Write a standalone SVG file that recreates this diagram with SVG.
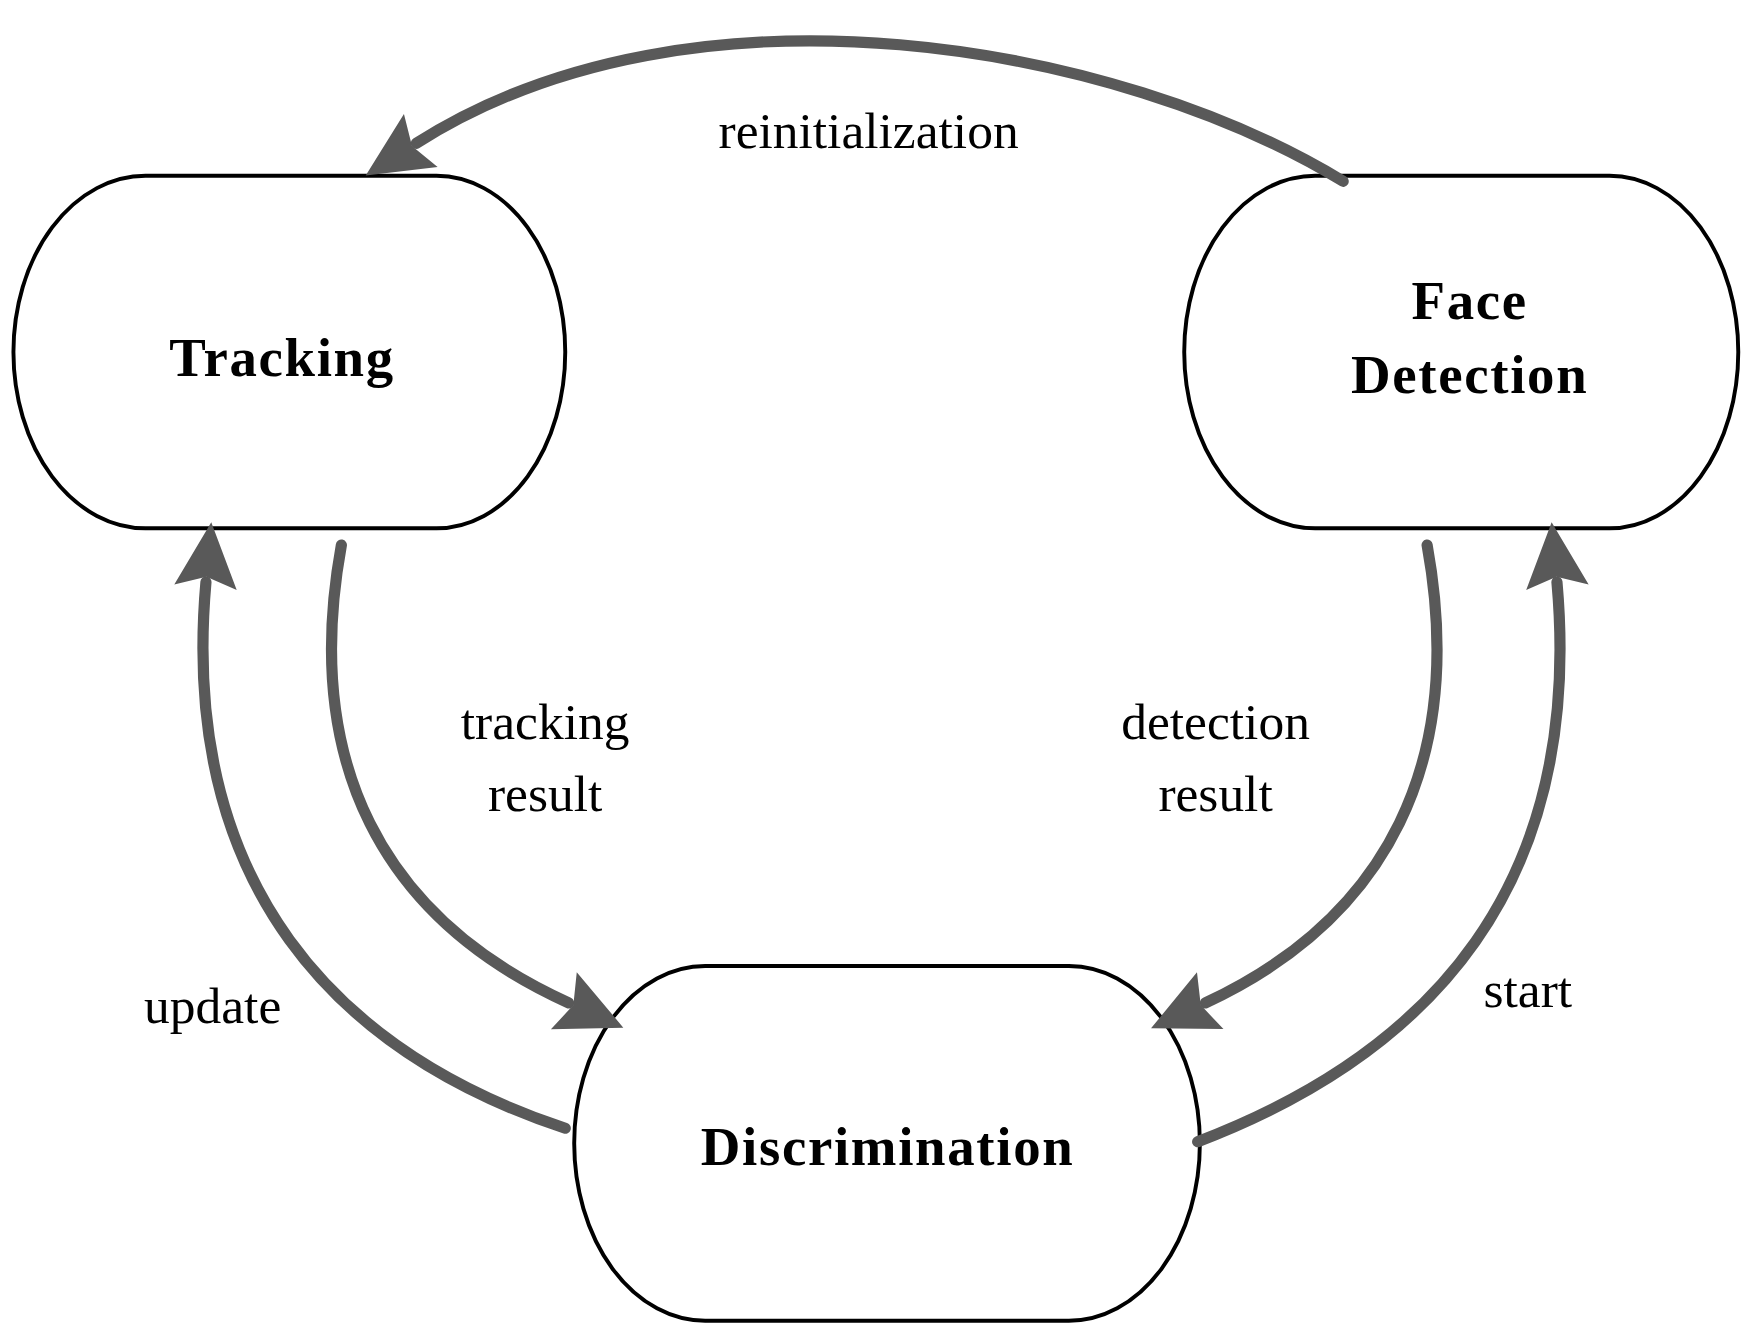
<svg xmlns="http://www.w3.org/2000/svg" width="1755" height="1341" viewBox="0 0 1755 1341">
<style>
.node{fill:#fff;stroke:#000;stroke-width:3.5}
.lbl{font-family:"Liberation Serif",serif;font-weight:bold;font-size:49px;text-anchor:middle;letter-spacing:1.5px}
.edge{fill:none;stroke:#595959;stroke-width:10;stroke-linecap:round}
.t{font-family:"Liberation Serif",serif;font-size:46px;text-anchor:middle}
</style>
<defs>
<marker id="ah" markerUnits="userSpaceOnUse" markerWidth="70" markerHeight="70" viewBox="-5 -30 60 60" refX="0" refY="0" orient="auto">
<path d="M-4,-24 L46,0 L-4,24 L4,0 z" fill="#595959"/>
</marker>
</defs>
<rect width="1755" height="1341" fill="#fff"/>
<g transform="scale(1.1193)">
<g id="tracking">
<path class="node" d="M130,157 H390 A115,157.5 0 0 1 390,472 H130 A118,157.5 0 0 1 130,157 Z"/>
<text class="lbl" x="252" y="336">Tracking</text>
</g>
<g id="face-detection">
<path class="node" d="M1175,157 H1438 A115,157.5 0 0 1 1438,472 H1175 A117,157.5 0 0 1 1175,157 Z"/>
<text class="lbl" x="1313" y="285">Face</text>
<text class="lbl" x="1313" y="351">Detection</text>
</g>
<g id="discrimination">
<path class="node" d="M630,863 H955 A117,158.5 0 0 1 955,1180 H630 A117,158.5 0 0 1 630,863 Z"/>
<text class="lbl" x="793" y="1041">Discrimination</text>
</g>
<g id="connectors">
<path class="edge" marker-end="url(#ah)" d="M1200,162 C1000,40 620,-30 372,128"/>
<path class="edge" marker-end="url(#ah)" d="M305,487 C270,680 340,820 508,896"/>
<path class="edge" marker-end="url(#ah)" d="M1275,487 C1310,680 1240,820 1077,896"/>
<path class="edge" marker-end="url(#ah)" d="M505,1008 C300,940 160,790 184,520"/>
<path class="edge" marker-end="url(#ah)" d="M1070,1020 C1280,940 1415,790 1391,520"/>
</g>
<g id="labels">
<text class="t" x="776" y="132">reinitialization</text>
<text class="t" x="487" y="660">tracking</text>
<text class="t" x="487" y="725">result</text>
<text class="t" x="1086" y="660">detection</text>
<text class="t" x="1086" y="725">result</text>
<text class="t" x="190" y="914">update</text>
<text class="t" x="1365" y="900">start</text>
</g>
</g>
</svg>
